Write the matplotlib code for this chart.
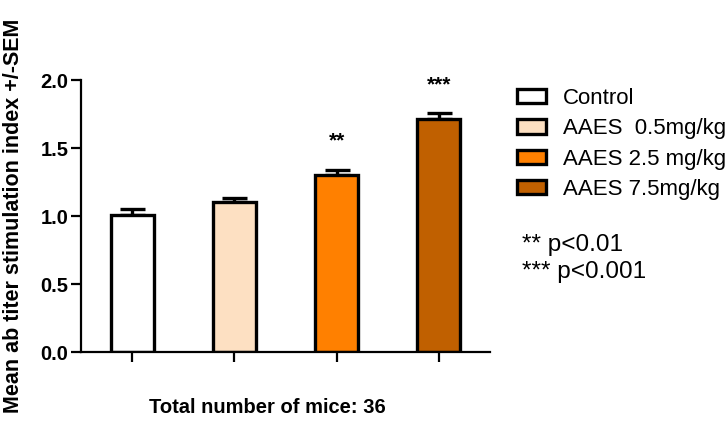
import numpy as np
import matplotlib.pyplot as plt

plt.rcParams['font.family'] = ['Liberation Sans', 'DejaVu Sans']

groups = ['Control', 'AAES  0.5mg/kg', 'AAES 2.5 mg/kg', 'AAES 7.5mg/kg']
means = [1.01, 1.10, 1.30, 1.715]
sems = [0.04, 0.035, 0.04, 0.04]
stars = ['', '', '**', '***']
colors = ['#FFFFFF', '#FDE0C2', '#FF8000', '#C06000']
notes = ['** p<0.01', '*** p<0.001']

fig = plt.figure(figsize=(7.28, 4.21), dpi=100)
ax = fig.add_axes([81 / 728, 69 / 421, (490 - 81) / 728, (352 - 80) / 421])

x = np.arange(len(groups))
bars = ax.bar(x, means, width=0.42, color=colors, edgecolor='black', linewidth=2.4,
              label=groups, zorder=2)
ax.errorbar(x, means, yerr=[np.zeros(len(sems)), sems], fmt='none', ecolor='black',
            elinewidth=2.4, capsize=9, capthick=2.4, zorder=1)

for xi, m, s, st in zip(x, means, sems, stars):
    if st:
        ax.text(xi, m + s + 0.14, st, ha='center', va='bottom', fontsize=15, fontweight='bold')

ax.set_xlim(-0.5, len(groups) - 0.5)
ax.set_ylim(0, 2.0)
ax.set_yticks([0, 0.5, 1.0, 1.5, 2.0])
ax.set_yticklabels(['0.0', '0.5', '1.0', '1.5', '2.0'], fontsize=14.5, fontweight='bold')
ax.set_xticks(x)
ax.set_xticklabels([])
ax.tick_params(axis='x', direction='out', length=7, width=1.6)
ax.tick_params(axis='y', direction='out', length=7, width=1.6, pad=2)
for s in ['top', 'right']:
    ax.spines[s].set_visible(False)
for s in ['left', 'bottom']:
    ax.spines[s].set_linewidth(1.6)

ax.set_xlabel('Total number of mice: 36', fontsize=14.5, fontweight='bold')
ax.xaxis.set_label_coords(0.455, -0.168)
ax.set_ylabel('Mean ab titer stimulation index +/-SEM', fontsize=15.5, fontweight='bold')
ax.yaxis.set_label_coords(-0.14, 0.5)

leg = ax.legend(handles=bars, labels=groups, loc='upper left', bbox_to_anchor=(1.045, 1.003),
                frameon=False, fontsize=16, handlelength=1.3, handleheight=0.62,
                handletextpad=0.75, labelspacing=0.42, borderaxespad=0)

fig.text(522 / 728, 1 - 245 / 421, notes[0], fontsize=17.5, va='center', ha='left')
fig.text(522 / 728, 1 - 272 / 421, notes[1], fontsize=17.5, va='center', ha='left')

fig.savefig('out.png', dpi=100)
